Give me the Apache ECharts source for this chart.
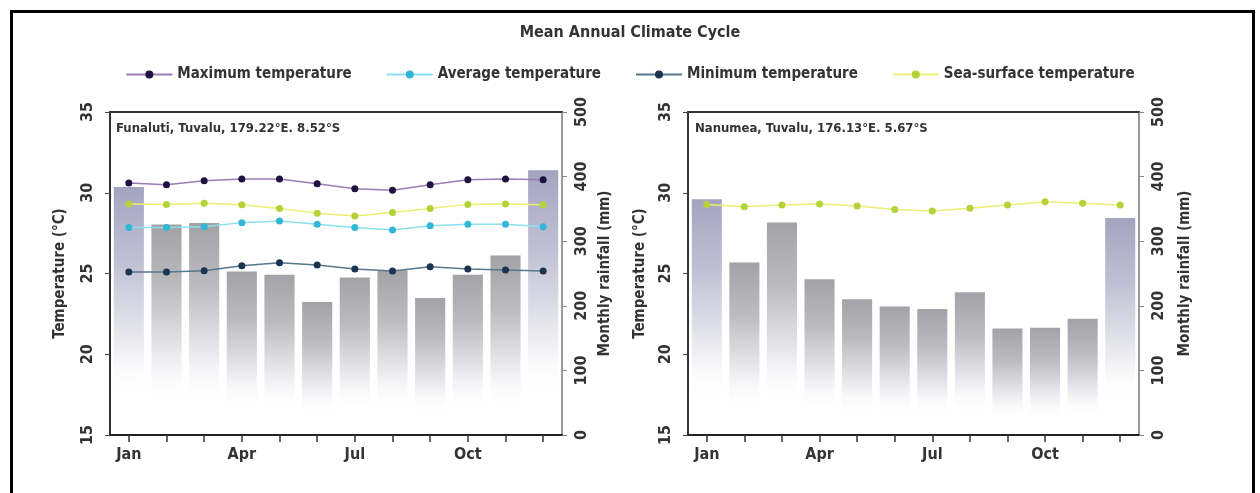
<!DOCTYPE html>
<html>
<head>
<meta charset="utf-8">
<script src="https://cdn.jsdelivr.net/npm/echarts@6/dist/echarts.min.js"></script>
<style>
  html, body { margin: 0; padding: 0; background: #fff; }
  #chart { width: 1260px; height: 493px; }
</style>
</head>
<body>
<div id="chart"></div>
<script>
// months on the x axis
const months = ['Jan', 'Feb', 'Mar', 'Apr', 'May', 'Jun', 'Jul', 'Aug', 'Sep', 'Oct', 'Nov', 'Dec'];

// Funafuti (left panel)
const funaRain = [384, 326, 328, 253, 248, 206, 244, 255, 212, 248, 278, 410];
const funaMax = [30.6, 30.5, 30.75, 30.85, 30.85, 30.55, 30.25, 30.15, 30.5, 30.8, 30.85, 30.8];
const funaAvg = [27.85, 27.85, 27.9, 28.15, 28.25, 28.05, 27.85, 27.7, 27.95, 28.05, 28.05, 27.9];
const funaMin = [25.1, 25.1, 25.17, 25.48, 25.67, 25.53, 25.28, 25.15, 25.42, 25.28, 25.22, 25.15];
const funaSst = [29.3, 29.28, 29.35, 29.25, 29.03, 28.73, 28.56, 28.77, 29.03, 29.28, 29.3, 29.25];

// Nanumea (right panel)
const nanuRain = [365, 267, 329, 241, 210, 199, 195, 221, 165, 166, 180, 336];
const nanuSst = [29.28, 29.14, 29.24, 29.3, 29.18, 28.97, 28.87, 29.04, 29.24, 29.45, 29.35, 29.24];

const panelTitles = ['Funaluti, Tuvalu, 179.22°E. 8.52°S', 'Nanumea, Tuvalu, 176.13°E. 5.67°S'];

const FONT = '"DejaVu Sans Condensed", "Liberation Sans Narrow", sans-serif';
const TXT = '#333';

const chart = echarts.init(document.getElementById('chart'));

function barGradient(tinted) {
    const top = tinted ? '#a4a4c0' : '#a2a2a7';
    const mid = tinted ? '#c0c0d4' : '#bcbcc0';
    return new echarts.graphic.LinearGradient(0, 0, 0, 1, [
        { offset: 0, color: top },
        { offset: 0.3, color: mid },
        { offset: 0.62, color: '#eaeaef' },
        { offset: 0.85, color: 'rgba(255,255,255,0)' },
        { offset: 1, color: 'rgba(255,255,255,0)' }
    ]);
}

function rainData(arr) {
    return arr.map((v, i) => ({
        value: v,
        itemStyle: { color: barGradient(i === 0 || i === 11) }
    }));
}

const grids = [
    { left: 110, top: 112, width: 452, height: 323 },
    { left: 688, top: 112, width: 451, height: 323 }
];
const nameGaps = [[42, 36], [40, 39]];

const xAxes = [];
const yAxes = [];
grids.forEach((g, gi) => {
    // bottom month axis
    xAxes.push({
        type: 'category', gridIndex: gi, data: months, position: 'bottom', z: 10,
        axisLine: { show: true, lineStyle: { color: '#222', width: 2 } },
        axisTick: { show: true, alignWithLabel: true, interval: 0, length: 7, lineStyle: { color: '#333', width: 1.5 } },
        axisLabel: { interval: 2, color: TXT, fontFamily: FONT, fontWeight: 'bold', fontSize: 16, margin: 12 }
    });
    // top frame line
    xAxes.push({
        type: 'category', gridIndex: gi, data: months, position: 'top', z: 10,
        axisLine: { show: true, lineStyle: { color: '#333', width: 2 } },
        axisTick: { show: false }, axisLabel: { show: false }
    });
    yAxes.push({
        type: 'value', gridIndex: gi, position: 'left', min: 15, max: 35, interval: 5, z: 10,
        name: 'Temperature (°C)', nameLocation: 'middle', nameGap: nameGaps[gi][0], nameRotate: 90,
        nameTextStyle: { color: TXT, fontFamily: FONT, fontWeight: 'bold', fontSize: 15 },
        axisLine: { show: true, lineStyle: { color: '#333', width: 2 } },
        axisTick: { show: true, length: 5, lineStyle: { color: '#444' } },
        axisLabel: { rotate: 90, color: TXT, fontFamily: FONT, fontWeight: 'bold', fontSize: 16, margin: 14 },
        splitLine: { show: false }
    });
    yAxes.push({
        type: 'value', gridIndex: gi, position: 'right', min: 0, max: 500, interval: 100, z: 10,
        name: 'Monthly rainfall (mm)', nameLocation: 'middle', nameGap: nameGaps[gi][1], nameRotate: 90,
        nameTextStyle: { color: TXT, fontFamily: FONT, fontWeight: 'bold', fontSize: 15 },
        axisLine: { show: true, lineStyle: { color: '#999', width: 2 } },
        axisTick: { show: true, length: 5, lineStyle: { color: '#888' } },
        axisLabel: { rotate: 90, color: TXT, fontFamily: FONT, fontWeight: 'bold', fontSize: 16, margin: 12 },
        splitLine: { show: false }
    });
});

function lineSeries(name, data, xi, yi, lineColor, dotColor) {
    return {
        name: name, type: 'line', data: data, xAxisIndex: xi, yAxisIndex: yi,
        symbol: 'circle', symbolSize: 7, z: 3,
        lineStyle: { color: lineColor, width: 1.5 },
        itemStyle: { color: dotColor }
    };
}

const series = [
    { name: 'rainfall', type: 'bar', data: rainData(funaRain), xAxisIndex: 0, yAxisIndex: 1, barWidth: '80%' },
    lineSeries('Maximum temperature', funaMax, 0, 0, '#9a7cb6', '#1d1240'),
    lineSeries('Average temperature', funaAvg, 0, 0, '#8be0ee', '#34b6d6'),
    lineSeries('Minimum temperature', funaMin, 0, 0, '#56788f', '#1b3550'),
    lineSeries('Sea-surface temperature', funaSst, 0, 0, '#ecee70', '#b5d23a'),
    { name: 'rainfall', type: 'bar', data: rainData(nanuRain), xAxisIndex: 2, yAxisIndex: 3, barWidth: '80%' },
    lineSeries('Sea-surface temperature', nanuSst, 2, 2, '#ecee70', '#b5d23a')
];

const option = {
    animation: false,
    backgroundColor: '#fff',
    title: {
        text: 'Mean Annual Climate Cycle', left: 'center', top: 20,
        textStyle: { color: TXT, fontFamily: FONT, fontWeight: 'bold', fontSize: 16 }
    },
    legend: {
        data: ['Maximum temperature', 'Average temperature', 'Minimum temperature', 'Sea-surface temperature'],
        left: 'center', top: 62, itemWidth: 46, itemHeight: 10, itemGap: 34,
        textStyle: { color: TXT, fontFamily: FONT, fontWeight: 'bold', fontSize: 15 }
    },
    graphic: [
        {
            type: 'rect', left: 9, top: 9, silent: true,
            shape: { width: 1242, height: 500 },
            style: { fill: 'none', stroke: '#000', lineWidth: 3 }
        },
        {
            type: 'text', left: 116, top: 122, silent: true,
            style: { text: panelTitles[0], fill: TXT, font: 'bold 13px ' + FONT }
        },
        {
            type: 'text', left: 695, top: 122, silent: true,
            style: { text: panelTitles[1], fill: TXT, font: 'bold 13px ' + FONT }
        }
    ],
    grid: grids,
    xAxis: xAxes,
    yAxis: yAxes,
    series: series
};
chart.setOption(option);
</script>
</body>
</html>
